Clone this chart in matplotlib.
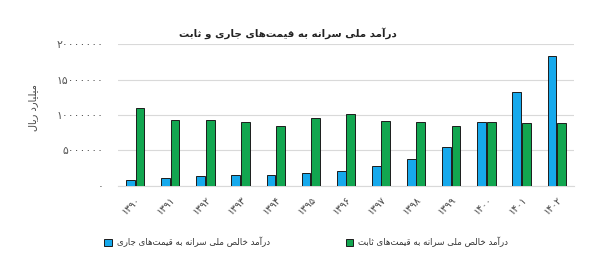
import numpy as np
import matplotlib
matplotlib.use("Agg")
import matplotlib.pyplot as plt
from matplotlib.ticker import FuncFormatter
from matplotlib.patches import Patch

# Data (per-capita national income)
years = [1390, 1391, 1392, 1393, 1394, 1395, 1396, 1397, 1398, 1399, 1400, 1401, 1402]
current_prices = [0.80e6, 1.05e6, 1.37e6, 1.51e6, 1.47e6, 1.75e6, 2.10e6,
                  2.83e6, 3.73e6, 5.52e6, 9.01e6, 13.3e6, 18.39e6]
constant_prices = [11.03e6, 9.25e6, 9.34e6, 9.00e6, 8.49e6, 9.62e6, 10.1e6,
                   9.15e6, 8.97e6, 8.49e6, 9.01e6, 8.91e6, 8.83e6]
y_ticks = [0, 5000000, 10000000, 15000000, 20000000]

title = "درآمد ملی سرانه به قیمت‌های جاری و ثابت"
y_label = "میلیارد ریال"
label_current = "درآمد خالص ملی سرانه به قیمت‌های جاری"
label_constant = "درآمد خالص ملی سرانه به قیمت‌های ثابت"

BLUE = "#16A9EC"
GREEN = "#12A650"

# --- minimal Persian shaping (no libraqm in matplotlib 3.10) ---
# isolated, final, initial, medial
FORMS = {
    'ا': ('\uFE8D', '\uFE8E', None, None),
    'آ': ('\uFE81', '\uFE82', None, None),
    'ب': ('\uFE8F', '\uFE90', '\uFE91', '\uFE92'),
    'پ': ('\uFB56', '\uFB57', '\uFB58', '\uFB59'),
    'ت': ('\uFE95', '\uFE96', '\uFE97', '\uFE98'),
    'ث': ('\uFE99', '\uFE9A', '\uFE9B', '\uFE9C'),
    'ج': ('\uFE9D', '\uFE9E', '\uFE9F', '\uFEA0'),
    'چ': ('\uFB7A', '\uFB7B', '\uFB7C', '\uFB7D'),
    'ح': ('\uFEA1', '\uFEA2', '\uFEA3', '\uFEA4'),
    'خ': ('\uFEA5', '\uFEA6', '\uFEA7', '\uFEA8'),
    'د': ('\uFEA9', '\uFEAA', None, None),
    'ذ': ('\uFEAB', '\uFEAC', None, None),
    'ر': ('\uFEAD', '\uFEAE', None, None),
    'ز': ('\uFEAF', '\uFEB0', None, None),
    'ژ': ('\uFB8A', '\uFB8B', None, None),
    'س': ('\uFEB1', '\uFEB2', '\uFEB3', '\uFEB4'),
    'ش': ('\uFEB5', '\uFEB6', '\uFEB7', '\uFEB8'),
    'ص': ('\uFEB9', '\uFEBA', '\uFEBB', '\uFEBC'),
    'ض': ('\uFEBD', '\uFEBE', '\uFEBF', '\uFEC0'),
    'ط': ('\uFEC1', '\uFEC2', '\uFEC3', '\uFEC4'),
    'ظ': ('\uFEC5', '\uFEC6', '\uFEC7', '\uFEC8'),
    'ع': ('\uFEC9', '\uFECA', '\uFECB', '\uFECC'),
    'غ': ('\uFECD', '\uFECE', '\uFECF', '\uFED0'),
    'ف': ('\uFED1', '\uFED2', '\uFED3', '\uFED4'),
    'ق': ('\uFED5', '\uFED6', '\uFED7', '\uFED8'),
    'ک': ('\uFB8E', '\uFB8F', '\uFB90', '\uFB91'),
    'گ': ('\uFB92', '\uFB93', '\uFB94', '\uFB95'),
    'ل': ('\uFEDD', '\uFEDE', '\uFEDF', '\uFEE0'),
    'م': ('\uFEE1', '\uFEE2', '\uFEE3', '\uFEE4'),
    'ن': ('\uFEE5', '\uFEE6', '\uFEE7', '\uFEE8'),
    'ه': ('\uFEE9', '\uFEEA', '\uFEEB', '\uFEEC'),
    'و': ('\uFEED', '\uFEEE', None, None),
    'ی': ('\uFBFC', '\uFBFD', '\uFBFE', '\uFBFF'),
}


def fa(text):
    out = []
    for i, ch in enumerate(text):
        if ch not in FORMS:
            if ch != '\u200c':
                out.append(ch)
            continue
        prev = text[i - 1] if i > 0 else ''
        nxt = text[i + 1] if i + 1 < len(text) else ''
        join_prev = prev in FORMS and FORMS[prev][2] is not None
        join_next = FORMS[ch][2] is not None and nxt in FORMS
        iso, fin, ini, med = FORMS[ch]
        if join_prev and join_next:
            out.append(med)
        elif join_prev:
            out.append(fin)
        elif join_next:
            out.append(ini)
        else:
            out.append(iso)
    return ''.join(reversed(out))


def fa_num(n):
    return str(int(n)).translate(str.maketrans('0123456789', '۰۱۲۳۴۵۶۷۸۹'))


plt.rcParams['font.family'] = ['DejaVu Sans']

fig = plt.figure(figsize=(6, 2.72), dpi=100)
ax = fig.add_axes([0.196, 0.317, 0.761, 0.52])

x = np.arange(len(years))
w = 0.25
ax.bar(x - 0.135, current_prices, w, color=BLUE, edgecolor="#1c1c1c", linewidth=0.7, zorder=3)
ax.bar(x + 0.135, constant_prices, w, color=GREEN, edgecolor="#1c1c1c", linewidth=0.7, zorder=3)

ax.set_xlim(-0.5, 12.5)
ax.set_ylim(0, 20000000)
ax.set_yticks(y_ticks)
ax.yaxis.set_major_formatter(FuncFormatter(lambda v, p: fa_num(v)))
ax.set_xticks(x)
ax.set_xticklabels([fa_num(y) for y in years], rotation=45, ha='right',
                   rotation_mode='anchor', fontsize=7, color="#444444")
ax.tick_params(axis='y', labelsize=7.8, colors="#555555", length=0, pad=10)
ax.tick_params(axis='x', length=0, pad=6)
ax.grid(axis='y', color="#d9d9d9", linewidth=0.8, zorder=0)
for s in ['top', 'right', 'left']:
    ax.spines[s].set_visible(False)
ax.spines['bottom'].set_color("#d9d9d9")

ax.set_ylabel(fa(y_label), fontsize=7, color="#444444")
ax.yaxis.set_label_coords(-0.175, 0.55)
fig.text(0.48, 0.88, fa(title), ha='center', va='center', fontsize=7.4, fontweight='bold', color="#222222")

handles = [Patch(facecolor=BLUE, edgecolor="#1c1c1c", linewidth=0.7),
           Patch(facecolor=GREEN, edgecolor="#1c1c1c", linewidth=0.7)]
fig.legend(handles, [fa(label_current), fa(label_constant)], ncol=2,
           loc='center left', bbox_to_anchor=(0.16, 0.11), frameon=False,
           fontsize=6.2, handlelength=0.9, handleheight=0.9, handletextpad=0.6,
           columnspacing=8.8, labelcolor="#333333")

fig.savefig("out.png", dpi=100)
